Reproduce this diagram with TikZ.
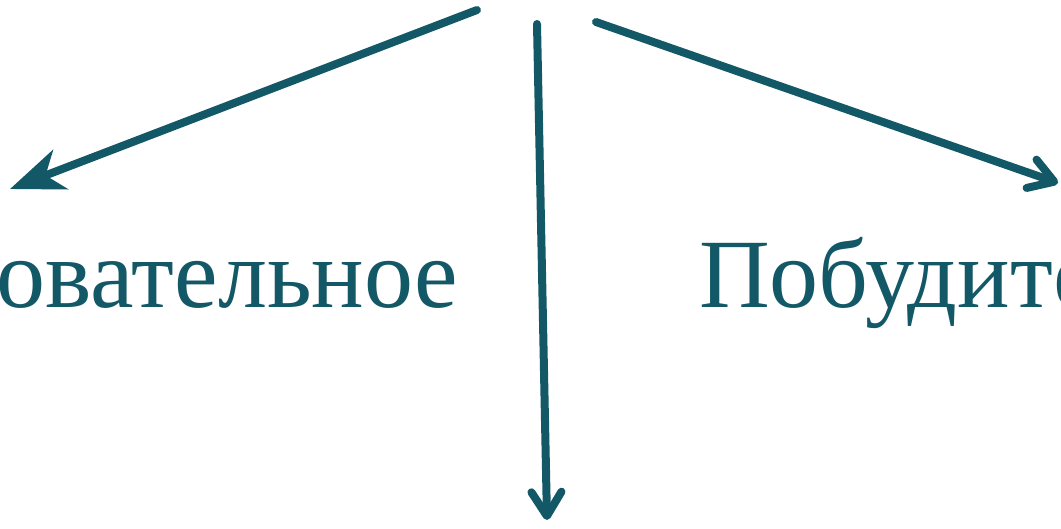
\documentclass[tikz,border=0pt]{standalone}
\usepackage{fontspec}
\setmainfont{Liberation Serif}
\usetikzlibrary{arrows.meta}
\definecolor{teal1}{HTML}{135866}
\begin{document}
\begin{tikzpicture}[x=1pt,y=-1pt,
  conn/.style={draw=teal1,line width=8pt,line cap=round},
  barb/.style={-{Straight Barb[length=24pt,width=30pt,line cap=round,line join=round]}},
  stl/.style={-{Stealth[length=54pt,width=42pt,inset=16pt]}},
  lbl/.style={text=teal1,font=\fontsize{98}{100}\selectfont,inner sep=0pt}]
\useasboundingbox (0,0) rectangle (1061,528);
\clip (0,0) rectangle (1061,528);
\fill[white] (0,0) rectangle (1061,528);
\coordinate (sL) at (477,10);
\coordinate (eL) at (10,189);
\coordinate (sM) at (537,24);
\coordinate (eM) at (547,520);
\coordinate (sR) at (596,22);
\coordinate (eR) at (1058,183);
\draw[conn,stl] (sL) -- (eL);
\draw[conn,barb] (sM) -- (eM);
\draw[conn,barb] (sR) -- (eR);
\node[lbl,anchor=base east] (tL) at (458,307) {Образовательное};
\node[lbl,anchor=base west] (tR) at (699,307) {Побудительное};
\end{tikzpicture}
\end{document}
